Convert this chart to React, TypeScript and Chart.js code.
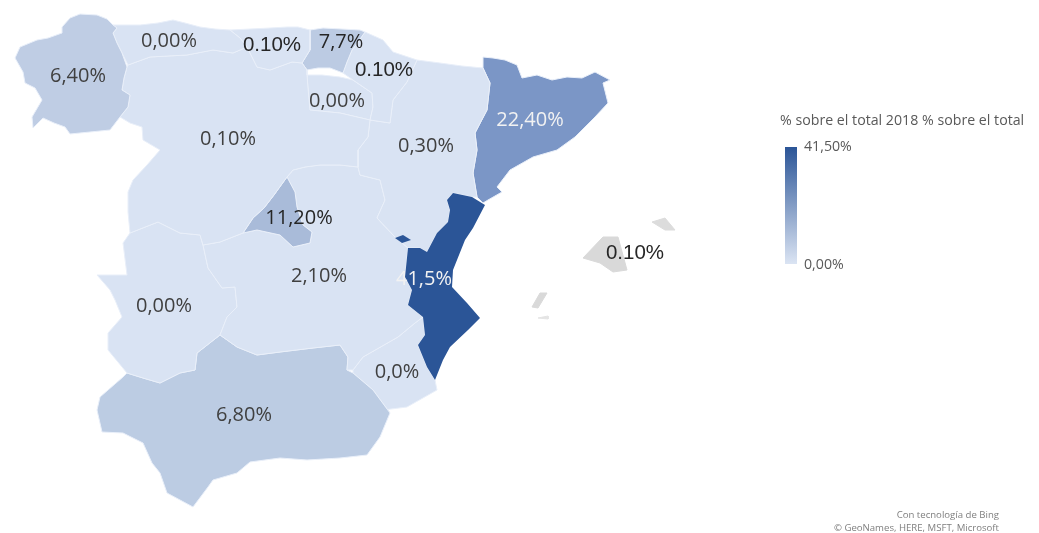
import React, { useEffect, useRef } from "react";
import { Chart, registerables } from "chart.js";

Chart.register(...registerables);

type P = [number, number];

// Region outlines, in the map's own units.
const galicia: P[] = [[62,27],[70,18],[80,14],[97,15],[107,19],[113,25],[117,28],[113,33],[117,43],[122,53],[127,67],[124,78],[122,90],[130,95],[128,107],[120,117],[110,130],[90,132],[70,134],[65,127],[54,123],[43,118],[33,128],[32,117],[42,100],[35,88],[25,83],[23,72],[15,58],[20,47],[37,40],[48,38],[62,33]];
const asturias: P[] = [[113,25],[125,25],[140,25],[158,23],[173,20],[185,23],[200,27],[215,29],[230,30],[240,38],[247,47],[233,53],[213,50],[187,55],[168,56],[150,57],[128,65],[122,53],[117,43],[113,33],[117,28]];
const cantabria: P[] = [[230,30],[250,29],[270,28],[287,27],[298,27],[310,30],[310,50],[302,63],[292,62],[270,70],[257,67],[252,57],[247,47],[240,38]];
const castillaLeon: P[] = [[128,65],[150,57],[168,56],[187,55],[213,50],[233,53],[247,47],[252,57],[257,67],[270,70],[292,62],[302,63],[307,70],[307,75],[308,88],[310,110],[340,113],[370,120],[368,137],[358,150],[358,167],[340,165],[320,165],[305,167],[293,170],[287,177],[274,195],[264,208],[253,218],[243,233],[220,242],[203,245],[200,235],[180,233],[158,222],[130,233],[128,212],[128,192],[133,180],[147,165],[160,150],[143,140],[142,127],[130,123],[120,117],[128,107],[130,95],[122,90],[124,78],[127,67]];
const basque: P[] = [[310,30],[323,28],[342,29],[360,30],[365,32],[358,42],[352,50],[347,62],[343,73],[330,68],[318,68],[307,70],[302,63],[310,50]];
const navarra: P[] = [[365,32],[383,40],[393,52],[417,60],[407,82],[393,100],[390,123],[370,120],[373,107],[372,93],[353,80],[343,73],[347,62],[352,50],[358,42]];
const rioja: P[] = [[307,75],[322,75],[340,77],[353,80],[372,93],[373,107],[370,120],[340,113],[310,110],[308,88]];
const aragon: P[] = [[417,60],[440,63],[462,66],[483,68],[490,83],[487,110],[475,133],[477,150],[473,173],[477,197],[472,197],[453,193],[447,200],[450,210],[448,222],[437,233],[427,252],[420,248],[408,248],[395,237],[377,218],[385,200],[380,180],[360,175],[358,167],[358,150],[368,137],[370,120],[390,123],[393,100],[407,82]];
const catalonia: P[] = [[483,57],[493,58],[505,60],[517,65],[522,78],[537,75],[552,80],[567,77],[582,78],[595,72],[610,80],[603,83],[608,103],[595,117],[575,137],[557,150],[533,157],[510,170],[497,187],[502,192],[488,200],[483,203],[477,197],[473,173],[477,150],[475,133],[487,110],[490,83],[483,68]];
const valencia: P[] = [[453,193],[472,197],[485,205],[473,228],[465,240],[453,270],[452,287],[467,303],[480,318],[468,330],[450,347],[443,360],[435,380],[427,367],[418,345],[425,335],[423,317],[408,305],[412,290],[405,277],[408,248],[420,248],[427,252],[437,233],[448,222],[450,210],[447,200]];
const ademuz: P[] = [[395,238],[403,235],[411,240],[402,243]];
const madrid: P[] = [[287,177],[295,192],[297,207],[303,225],[312,232],[310,243],[293,247],[280,235],[257,230],[243,233],[253,218],[264,208],[274,195]];
const castillaMancha: P[] = [[287,177],[293,170],[305,167],[320,165],[340,165],[358,167],[360,175],[380,180],[385,200],[377,218],[395,237],[408,248],[405,277],[412,290],[408,305],[423,317],[415,323],[398,337],[363,357],[353,370],[347,370],[348,357],[340,345],[313,348],[280,352],[257,355],[237,347],[220,335],[227,317],[237,307],[235,287],[222,288],[208,268],[203,245],[220,242],[243,233],[257,230],[280,235],[293,247],[310,243],[312,232],[303,225],[297,207],[295,192]];
const extremadura: P[] = [[123,243],[130,233],[158,222],[180,233],[200,235],[203,245],[208,268],[222,288],[235,287],[237,307],[227,317],[220,335],[197,353],[195,370],[180,373],[160,383],[143,378],[127,373],[108,350],[108,333],[122,317],[115,300],[110,290],[97,275],[127,275]];
const andalusia: P[] = [[127,373],[143,378],[160,383],[180,373],[195,370],[197,353],[220,335],[237,347],[257,355],[280,352],[313,348],[340,345],[348,357],[347,370],[353,373],[373,390],[390,413],[380,437],[367,455],[340,458],[307,460],[280,458],[250,462],[237,473],[213,480],[208,487],[193,507],[167,493],[160,473],[152,463],[143,443],[123,433],[102,432],[97,410],[100,397],[123,377]];
const murcia: P[] = [[353,373],[353,370],[363,357],[398,337],[415,323],[423,317],[425,335],[418,345],[427,367],[435,380],[437,390],[407,407],[383,410],[390,413],[373,390]];
const mallorca: P[] = [[583,258],[603,237],[618,237],[627,270],[613,272],[600,263]];
const menorca: P[] = [[652,222],[665,218],[675,230],[665,230]];
const ibiza: P[] = [[532,307],[540,293],[547,293],[538,308]];
const formentera: P[] = [[538,318],[548,316],[548,319]];

const lightBlue = "#d9e3f3";
const regions: [string, P[], string][] = [
  ["Galicia", galicia, "#bfcde4"],
  ["Asturias", asturias, lightBlue],
  ["Cantabria", cantabria, lightBlue],
  ["Castilla y León", castillaLeon, lightBlue],
  ["País Vasco", basque, "#bccbe3"],
  ["Navarra", navarra, lightBlue],
  ["La Rioja", rioja, lightBlue],
  ["Aragón", aragon, lightBlue],
  ["Cataluña", catalonia, "#7b96c6"],
  ["Valencia", valencia, "#2b5597"],
  ["Rincón de Ademuz", ademuz, "#2b5597"],
  ["Madrid", madrid, "#a9bbd9"],
  ["Castilla-La Mancha", castillaMancha, lightBlue],
  ["Extremadura", extremadura, lightBlue],
  ["Andalucía", andalusia, "#bccce3"],
  ["Murcia", murcia, lightBlue],
  ["Mallorca", mallorca, "#d9d9d9"],
  ["Menorca", menorca, "#dcdcdc"],
  ["Ibiza", ibiza, "#d9d9d9"],
  ["Formentera", formentera, "#e4e4e4"],
];

const labelTexts = ["0,00%","6,40%","0.10%","7,7%","0.10%","0,00%","0,10%","0,30%","22,40%","11,20%","2,10%","41,5%","0.10%","0,00%","0,0%","6,80%"];
const labelX = [169,78,272,341,384,337,228,426,530,299,319,424,635,164,397,244];
const labelY = [41,76,45,42,70,101,139,146,120,218,276,279,253,306,372,415];
const labelColors = ["#404040","#404040","#262626","#262626","#262626","#404040","#404040","#404040","#f2f2f2","#262626","#404040","#f2f2f2","#262626","#404040","#404040","#404040"];
const labelFonts = ["o","o","l","o","l","o","o","o","o","o","o","o","l","o","o","o"];

const legendTitle = "% sobre el total 2018 % sobre el total";
const legendMax = "41,50%";
const legendMin = "0,00%";
const creditLines = ["Con tecnología de Bing", "© GeoNames, HERE, MSFT, Microsoft"];

const textPlugin = {
  id: "mapText",
  afterDatasetsDraw(chart: any) {
    const { ctx, scales } = chart;
    const X = (v: number) => scales.x.getPixelForValue(v);
    const Y = (v: number) => scales.y.getPixelForValue(v);
    ctx.save();
    ctx.textBaseline = "middle";
    ctx.textAlign = "center";
    labelTexts.forEach((t, i) => {
      ctx.font = labelFonts[i] === "l" ? "20.5px 'Liberation Sans'" : "20px 'Open Sans'";
      ctx.fillStyle = labelColors[i];
      ctx.fillText(t, X(labelX[i]), Y(labelY[i]));
    });
    ctx.textAlign = "left";
    ctx.fillStyle = "#595959";
    ctx.font = "14.2px 'Open Sans'";
    ctx.fillText(legendTitle, X(780), Y(121));
    ctx.fillText(legendMax, X(804), Y(147));
    ctx.fillText(legendMin, X(804), Y(265));
    ctx.textAlign = "right";
    ctx.fillStyle = "#7f7f7f";
    ctx.font = "9.6px 'Open Sans'";
    ctx.fillText(creditLines[0], X(999), Y(515));
    ctx.fillText(creditLines[1], X(999), Y(528));
    ctx.restore();
  },
};

export default function App() {
  const ref = useRef<HTMLCanvasElement>(null);
  useEffect(() => {
    if (!ref.current) return;
    const polygons = regions.map(([label, pts, color]) => ({
      type: "scatter",
      label,
      data: [...pts, pts[0]].map(([x, y]) => ({ x, y })),
      showLine: true,
      fill: "shape",
      tension: 0,
      backgroundColor: color,
      borderColor: color === "#d9d9d9" || color === "#dcdcdc" || color === "#e4e4e4" ? color : "#e9eff9",
      borderWidth: color === "#2b5597" ? 0 : 1,
      pointRadius: 0,
      order: color === "#2b5597" ? 0 : 1,
    }));
    const legendBar = {
      type: "scatter",
      label: "Leyenda",
      data: [{ x: 791, y: 147 }, { x: 791, y: 264 }],
      showLine: true,
      pointRadius: 0,
      borderWidth: 12,
      borderCapStyle: "butt",
      borderColor: (c: any) => {
        const { ctx, scales, chartArea } = c.chart;
        if (!chartArea) return "#2b5597";
        const a = scales.y.getPixelForValue(147);
        const b = scales.y.getPixelForValue(264);
        if (!Number.isFinite(a) || !Number.isFinite(b)) return "#2b5597";
        const g = ctx.createLinearGradient(0, a, 0, b);
        g.addColorStop(0, "#2b5597");
        g.addColorStop(1, "#dbe4f3");
        return g;
      },
    };
    const chart = new Chart(ref.current, {
      type: "scatter",
      data: { datasets: [...polygons, legendBar] as any },
      options: {
        animation: false,
        responsive: false,
        layout: { padding: 0 },
        plugins: { legend: { display: false }, tooltip: { enabled: false } },
        scales: {
          x: { type: "linear", min: 0, max: 1039, display: false },
          y: { type: "linear", min: 0, max: 533, reverse: true, display: false },
        },
      } as any,
      plugins: [textPlugin],
    });
    return () => chart.destroy();
  }, []);
  return (
    <div style={{ position: "absolute", left: 0, top: 0, width: 1039, height: 533, background: "#fff" }}>
      <canvas ref={ref} width={1039} height={533} style={{ display: "block", filter: "blur(0.5px)" }} />
    </div>
  );
}
